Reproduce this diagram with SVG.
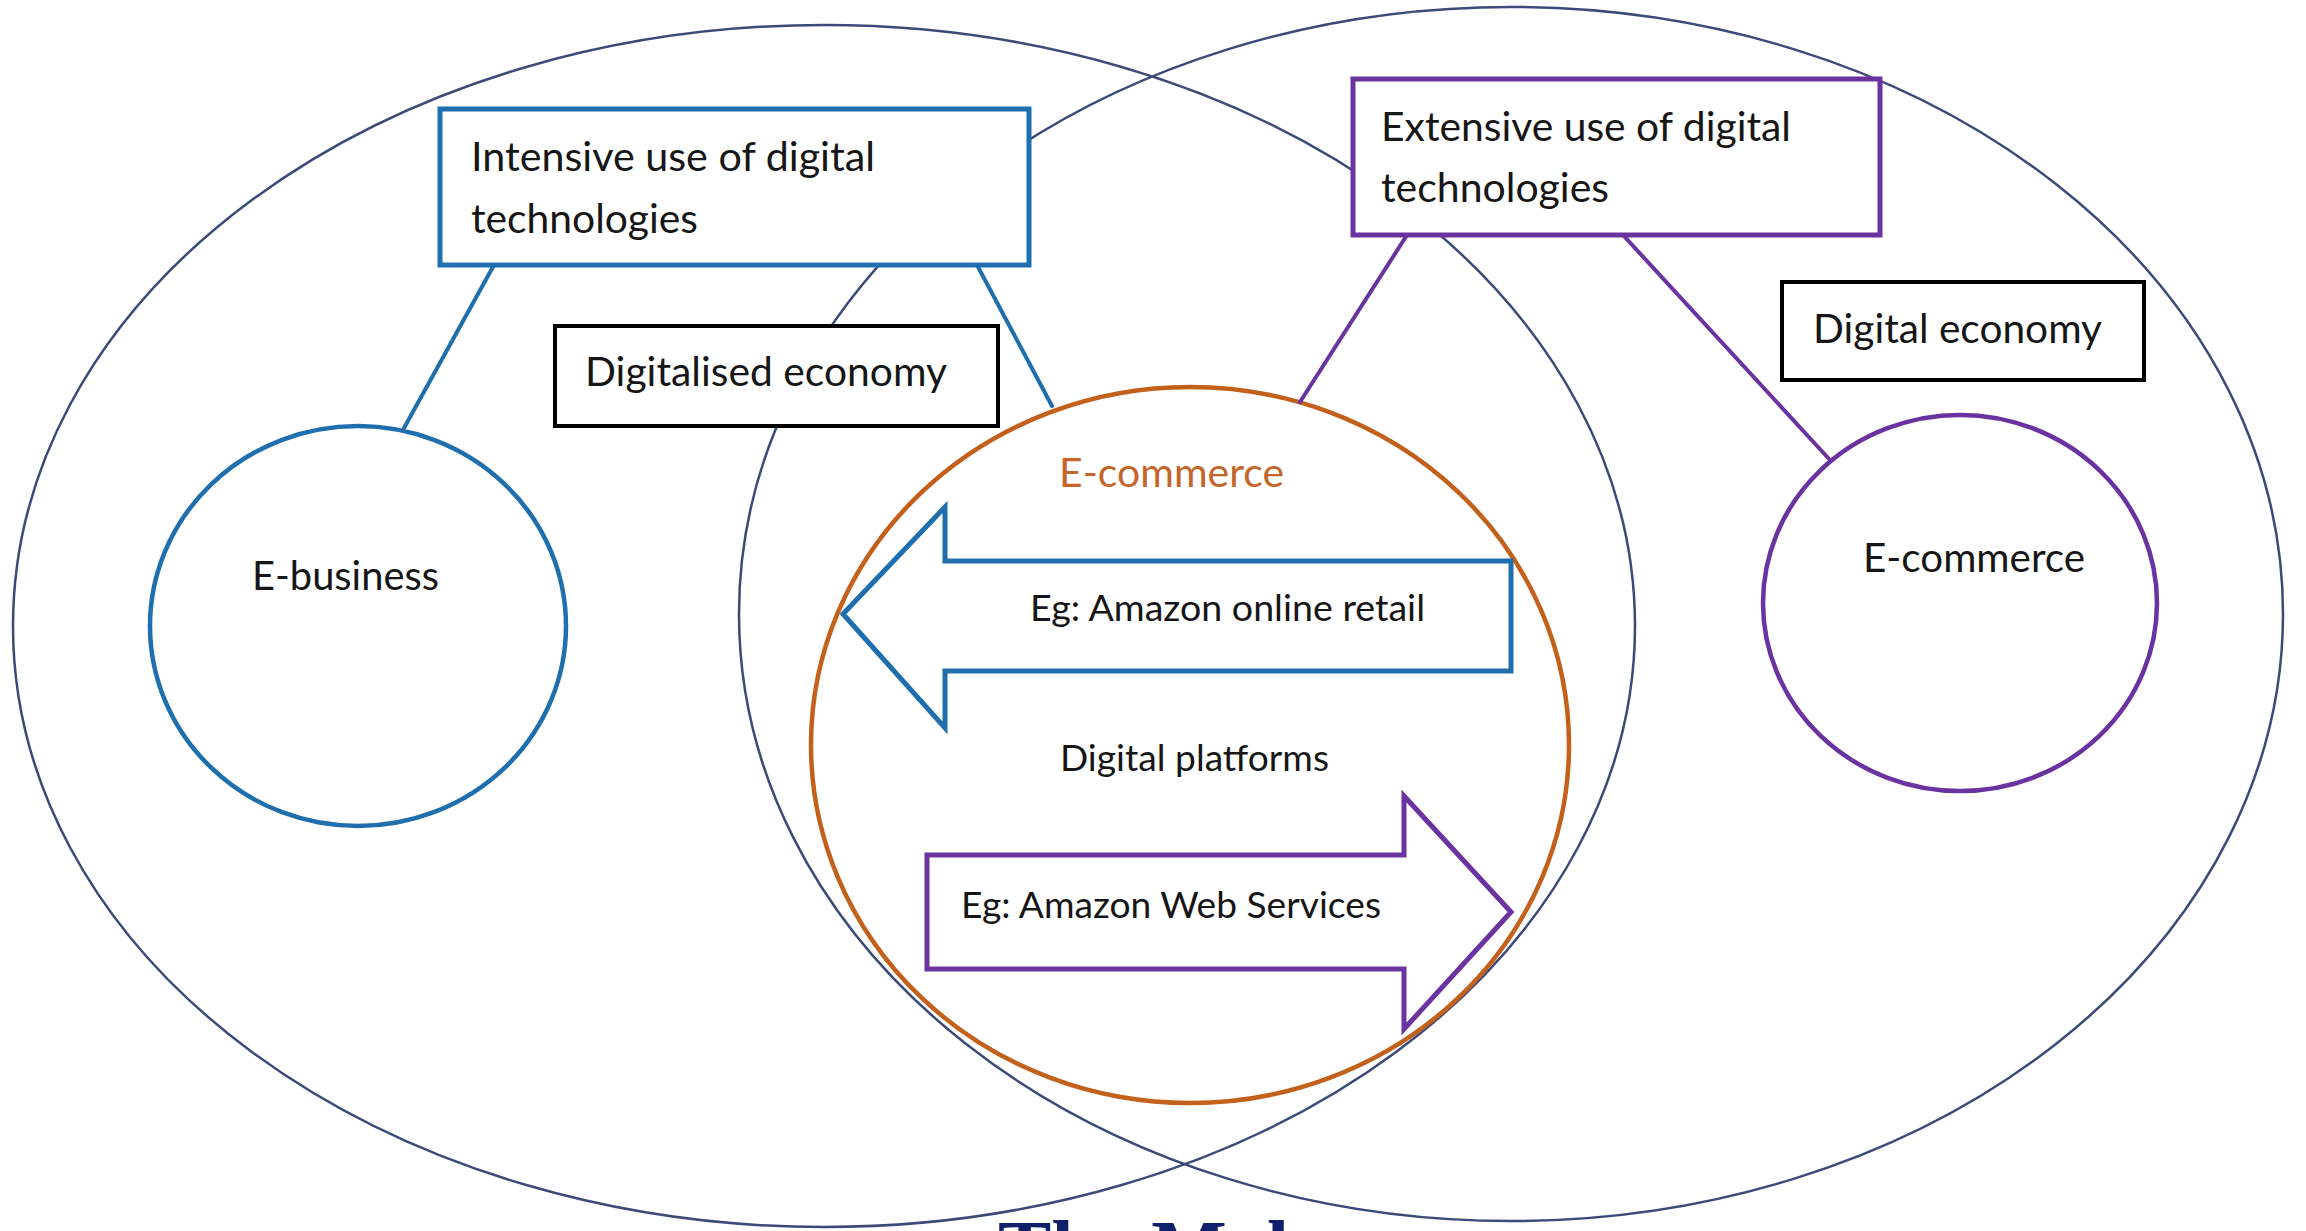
<svg xmlns="http://www.w3.org/2000/svg" width="2306" height="1231" viewBox="0 0 2306 1231">
  <style>
    .set{fill:none;stroke:#3b4a78;stroke-width:2.5}
    .blue{stroke:#1f6fae}
    .purple{stroke:#6b33a0}
    .orange{stroke:#c2601c}
    .ring{fill:none;stroke-width:4.5}
    .box{fill:#ffffff;stroke-width:5}
    .plain{stroke:#000000;stroke-width:4}
    .link{fill:none;stroke-width:4;stroke-linecap:round}
    .arrow{fill:none;stroke-width:5;stroke-linejoin:miter}
    .lbl{font-family:Lato,"Open Sans","Liberation Sans",sans-serif;fill:#161616}
    .big{font-size:40px}
    .small{font-size:36px}
    .title{font-family:"Liberation Serif","Times New Roman",serif;font-weight:bold;font-size:80px;fill:#10206a}
  </style>

  <rect width="2306" height="1231" fill="#ffffff"/>

  <!-- outer sets -->
  <g id="digitalised-economy-set">
    <ellipse class="set" cx="824" cy="626" rx="811" ry="601"/>
  </g>
  <g id="digital-economy-set">
    <ellipse class="set" cx="1511" cy="614" rx="772" ry="607"/>
  </g>

  <!-- inner circles -->
  <g id="e-business">
    <ellipse class="ring blue" cx="358" cy="626" rx="208" ry="200"/>
    <text class="lbl big" x="252" y="590" textLength="187" lengthAdjust="spacingAndGlyphs">E-business</text>
  </g>
  <g id="e-commerce-core">
    <ellipse class="ring orange" cx="1190" cy="745" rx="379" ry="358"/>
    <text class="lbl big" x="1059" y="487" textLength="225" lengthAdjust="spacingAndGlyphs" style="fill:#c4652a">E-commerce</text>
  </g>
  <g id="e-commerce">
    <ellipse class="ring purple" cx="1960" cy="603" rx="197" ry="188"/>
    <text class="lbl big" x="1863" y="572" textLength="222" lengthAdjust="spacingAndGlyphs">E-commerce</text>
  </g>

  <!-- connectors -->
  <g id="connectors">
    <line class="link blue" x1="494" y1="265" x2="404" y2="428"/>
    <line class="link blue" x1="977" y1="265" x2="1052" y2="406"/>
    <line class="link purple" x1="1407" y1="235" x2="1300" y2="402"/>
    <line class="link purple" x1="1623" y1="235" x2="1830" y2="460"/>
  </g>

  <!-- label boxes -->
  <g id="box-intensive">
    <rect class="box blue" x="440" y="109" width="589" height="156"/>
    <text class="lbl big" x="471" y="171" textLength="404" lengthAdjust="spacingAndGlyphs">Intensive use of digital</text>
    <text class="lbl big" x="471" y="233" textLength="227" lengthAdjust="spacingAndGlyphs">technologies</text>
  </g>
  <g id="box-digitalised">
    <rect class="box plain" x="555" y="326" width="443" height="100"/>
    <text class="lbl big" x="585" y="386" textLength="362" lengthAdjust="spacingAndGlyphs">Digitalised economy</text>
  </g>
  <g id="box-extensive">
    <rect class="box purple" x="1353" y="79" width="527" height="156"/>
    <text class="lbl big" x="1381" y="141" textLength="410" lengthAdjust="spacingAndGlyphs">Extensive use of digital</text>
    <text class="lbl big" x="1381" y="202" textLength="228" lengthAdjust="spacingAndGlyphs">technologies</text>
  </g>
  <g id="box-digital-economy">
    <rect class="box plain" x="1782" y="282" width="362" height="98"/>
    <text class="lbl big" x="1813" y="343" textLength="289" lengthAdjust="spacingAndGlyphs">Digital economy</text>
  </g>

  <!-- block arrows inside the core circle -->
  <g id="arrow-retail">
    <polygon class="arrow blue" points="843,614 945,507 945,561 1511,561 1511,671 945,671 945,728"/>
    <text class="lbl small" x="1030" y="621" textLength="395" lengthAdjust="spacingAndGlyphs">Eg: Amazon online retail</text>
  </g>
  <g id="label-platforms">
    <text class="lbl small" x="1060" y="771" textLength="269" lengthAdjust="spacingAndGlyphs">Digital platforms</text>
  </g>
  <g id="arrow-aws">
    <polygon class="arrow purple" points="927,855 1404,855 1404,796 1511,912 1404,1029 1404,969 927,969"/>
    <text class="lbl small" x="961" y="918" textLength="420" lengthAdjust="spacingAndGlyphs">Eg: Amazon Web Services</text>
  </g>

  <!-- heading, clipped by the lower edge -->
  <g id="title">
    <text class="title" x="998" y="1276">The Mak</text>
  </g>
</svg>
